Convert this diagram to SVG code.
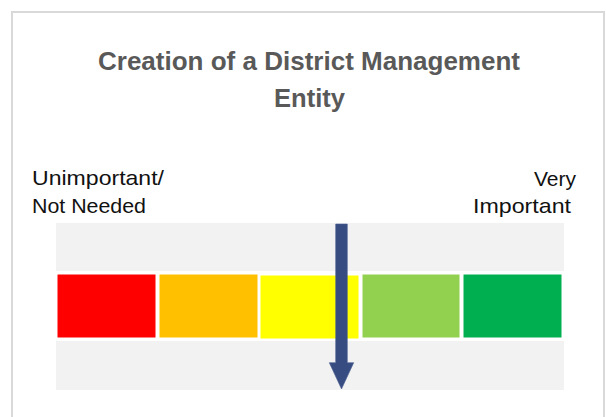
<svg xmlns="http://www.w3.org/2000/svg" width="606" height="417" viewBox="0 0 606 417">
<style>
.title{font-family:"Liberation Sans",Arial,sans-serif;font-weight:bold;font-size:25px;fill:#595959}
.lbl{font-family:"Liberation Sans",Arial,sans-serif;font-size:21px;fill:#111111}
.blk{stroke:#FFFFFF;stroke-width:1}
</style>
<rect x="0" y="0" width="606" height="417" fill="#FFFFFF"/>
<rect id="frame" x="12" y="12" width="592" height="410" fill="#FFFFFF" stroke="#D9D9D9" stroke-width="2"/>
<g id="title">
<text class="title" x="98" y="70" textLength="422" lengthAdjust="spacingAndGlyphs">Creation of a District Management</text>
<text class="title" x="274" y="107" textLength="71" lengthAdjust="spacingAndGlyphs">Entity</text>
</g>
<g id="labels">
<text class="lbl" x="32" y="185" textLength="132" lengthAdjust="spacingAndGlyphs">Unimportant/</text>
<text class="lbl" x="32" y="213" textLength="114" lengthAdjust="spacingAndGlyphs">Not Needed</text>
<text class="lbl" x="576" y="186" text-anchor="end">Very</text>
<text class="lbl" x="473" y="213" textLength="98" lengthAdjust="spacingAndGlyphs">Important</text>
</g>
<g id="scale">
<rect x="56" y="223" width="508" height="167" fill="#F2F2F2"/>
<rect x="56" y="271" width="508" height="70" fill="#FFFFFF"/>
<rect id="red" class="blk" x="57" y="274" width="99" height="64" fill="#FF0000"/>
<rect id="orange" class="blk" x="159" y="274" width="99" height="64" fill="#FFC000"/>
<rect id="yellow" class="blk" x="260" y="275" width="99" height="64" fill="#FFFF00" stroke-width="2"/>
<rect id="lightgreen" class="blk" x="362" y="274" width="98" height="64" fill="#92D050"/>
<rect id="green" class="blk" x="463" y="274" width="99" height="64" fill="#00B050"/>
</g>
<g id="connectors">
<path id="arrow" d="M335.7,224 H347.3 V362.7 H353.7 L341.5,389 L329.3,362.7 H335.7 Z" fill="#374C80" stroke="#4A5E90" stroke-width="0.6"/>
</g>
</svg>
